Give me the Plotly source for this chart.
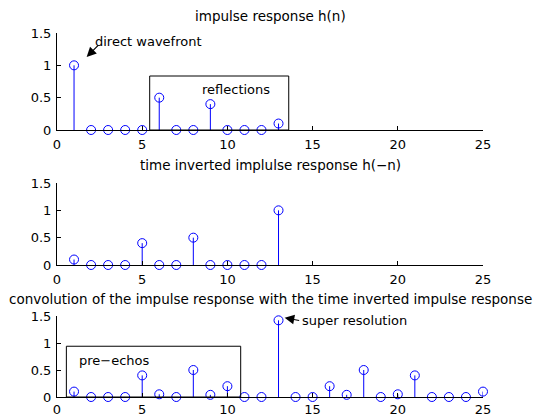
import plotly.graph_objects as go

# ---- data ----
n_h = list(range(1, 14))
h = [1, 0, 0, 0, 0, 0.5, 0, 0, 0.4, 0, 0, 0, 0.1]

n_hr = list(range(1, 14))
h_rev = [0.1, 0, 0, 0, 0.4, 0, 0, 0.5, 0, 0, 0, 0, 1]

n_c = list(range(1, 26))
conv = [0.1, 0, 0, 0, 0.4, 0.05, 0, 0.5, 0.04, 0.2, 0, 0, 1.42,
        0, 0, 0.2, 0.04, 0.5, 0, 0.05, 0.4, 0, 0, 0, 0.1]

titles = ["impulse response h(n)",
          "time inverted implulse response h(\u2212n)",
          "convolution of the impulse response with the time inverted impulse response"]
x_ticks = [0, 5, 10, 15, 20, 25]
y_ticks = [0, 0.5, 1, 1.5]

FONT = "DejaVu Sans"
BLUE = "#0000ff"
H = 417

fig = go.Figure()

series = [(n_h, h), (n_hr, h_rev), (n_c, conv)]
for i, (xs, ys) in enumerate(series):
    sx, sy = [], []
    for a, b in zip(xs, ys):
        sx += [a, a, None]
        sy += [0, b, None]
    suf = "" if i == 0 else str(i + 1)
    fig.add_trace(go.Scatter(x=sx, y=sy, mode="lines", line=dict(color=BLUE, width=1),
                             xaxis="x" + suf, yaxis="y" + suf, showlegend=False,
                             hoverinfo="skip", cliponaxis=False))
    fig.add_trace(go.Scatter(x=xs, y=ys, mode="markers",
                             marker=dict(symbol="circle-open", size=9, color=BLUE,
                                         line=dict(width=1, color=BLUE)),
                             xaxis="x" + suf, yaxis="y" + suf, showlegend=False,
                             cliponaxis=False))

# pixel positions of the panels (top, bottom)
panels = [(33, 130), (183, 265), (316, 397)]
title_y = [16, 165, 299]
standoffs = [2, 2, 0]

axis_common = dict(showline=True, linecolor="black", linewidth=1, ticks="inside",
                   ticklen=4, tickcolor="black", showgrid=False, zeroline=False,
                   tickfont=dict(family=FONT, size=13, color="black"))

layout = dict(width=540, height=H, margin=dict(l=57, r=57, t=0, b=0),
              paper_bgcolor="white", plot_bgcolor="white", showlegend=False,
              font=dict(family=FONT, size=13, color="black"))
for i, (top, bot) in enumerate(panels):
    suf = "" if i == 0 else str(i + 1)
    layout["xaxis" + suf] = dict(axis_common, range=[0, 25], tickvals=x_ticks,
                                 domain=[0, 1], anchor="y" + suf, automargin=False,
                                 ticklabelstandoff=standoffs[i])
    layout["yaxis" + suf] = dict(axis_common, range=[0, 1.5], tickvals=y_ticks,
                                 domain=[1 - bot / H, 1 - top / H], anchor="x" + suf,
                                 automargin=False, ticklabelstandoff=2)
fig.update_layout(**layout)

ann = []
for i, t in enumerate(titles):
    ann.append(dict(text=t, xref="paper", yref="paper", x=0.5, y=1 - title_y[i] / H,
                    xanchor="center", yanchor="middle", showarrow=False,
                    font=dict(family=FONT, size=13.5, color="black")))

# text labels
ann.append(dict(text="direct wavefront", xref="x", yref="y", x=2.1, y=1.376,
                xanchor="left", yanchor="middle", showarrow=False))
ann.append(dict(text="reflections", xref="x", yref="y", x=10.49, y=0.62,
                xanchor="center", yanchor="middle", showarrow=False))
ann.append(dict(text="pre\u2212echos", xref="x3", yref="y3", x=3.36, y=0.68,
                xanchor="center", yanchor="middle", showarrow=False))
ann.append(dict(text="super resolution", xref="x3", yref="y3", x=14.24, y=1.42,
                xanchor="left", yanchor="middle", showarrow=False))
# arrows
ann.append(dict(text="", xref="x", yref="y", x=1.74, y=1.13, ax=13, ay=-13,
                showarrow=True, arrowhead=2, arrowsize=1.6, arrowwidth=1.2,
                arrowcolor="black"))
ann.append(dict(text="", xref="x3", yref="y3", x=13.36, y=1.467, ax=16, ay=3,
                showarrow=True, arrowhead=2, arrowsize=1.6, arrowwidth=1.2,
                arrowcolor="black"))
fig.update_layout(annotations=ann)

# boxes
fig.add_shape(type="rect", xref="x", yref="y", x0=5.44, x1=13.6, y0=0, y1=0.835,
              line=dict(color="black", width=1), fillcolor="rgba(0,0,0,0)")
fig.add_shape(type="rect", xref="x3", yref="y3", x0=0.55, x1=10.78, y0=0, y1=0.94,
              line=dict(color="black", width=1), fillcolor="rgba(0,0,0,0)")

fig.write_html("out.html")
